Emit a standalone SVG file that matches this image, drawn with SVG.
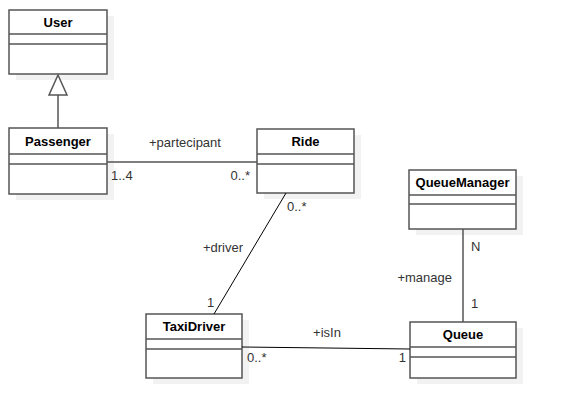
<svg xmlns="http://www.w3.org/2000/svg" width="565" height="418" viewBox="0 0 565 418">
<style>
.shadow{fill:#f2f2f2;stroke:none}
.box{fill:#ffffff;stroke:#555555;stroke-width:1.5}
.div{stroke:#555555;stroke-width:1.5}
.name{font-family:"Liberation Sans",Arial,sans-serif;font-size:13px;font-weight:bold;fill:#000000;text-anchor:middle}
.lbl{font-family:"Liberation Sans",Arial,sans-serif;font-size:13px;fill:#333333}
.conn{stroke:#555555;stroke-width:1.5;fill:none}
.thin{stroke:#000000;stroke-width:1;fill:none}
</style>
<rect width="565" height="418" fill="#ffffff"/>
<g id="User">
<rect class="shadow" x="16" y="16" width="98" height="64"/>
<rect class="box" x="9" y="10" width="98" height="64"/>
<line class="div" x1="9" y1="34" x2="107" y2="34"/>
<line class="div" x1="9" y1="44" x2="107" y2="44"/>
<text class="name" x="58" y="27">User</text>
</g>
<g id="Passenger">
<rect class="shadow" x="16" y="134" width="98" height="66"/>
<rect class="box" x="9" y="128" width="98" height="66"/>
<line class="div" x1="9" y1="154" x2="107" y2="154"/>
<line class="div" x1="9" y1="164" x2="107" y2="164"/>
<text class="name" x="58" y="146">Passenger</text>
</g>
<g id="Ride">
<rect class="shadow" x="264" y="135" width="97" height="64"/>
<rect class="box" x="257" y="129" width="97" height="64"/>
<line class="div" x1="257" y1="154" x2="354" y2="154"/>
<line class="div" x1="257" y1="164" x2="354" y2="164"/>
<text class="name" x="305.5" y="146">Ride</text>
</g>
<g id="QueueManager">
<rect class="shadow" x="416" y="176" width="107" height="59"/>
<rect class="box" x="409" y="170" width="107" height="59"/>
<line class="div" x1="409" y1="195" x2="516" y2="195"/>
<line class="div" x1="409" y1="204" x2="516" y2="204"/>
<text class="name" x="462.5" y="187">QueueManager</text>
</g>
<g id="TaxiDriver">
<rect class="shadow" x="153" y="320" width="96" height="64"/>
<rect class="box" x="146" y="314" width="96" height="64"/>
<line class="div" x1="146" y1="339" x2="242" y2="339"/>
<line class="div" x1="146" y1="349" x2="242" y2="349"/>
<text class="name" x="194" y="331">TaxiDriver</text>
</g>
<g id="Queue">
<rect class="shadow" x="417" y="328" width="106" height="56"/>
<rect class="box" x="410" y="322" width="106" height="56"/>
<line class="div" x1="410" y1="347" x2="516" y2="347"/>
<line class="div" x1="410" y1="357" x2="516" y2="357"/>
<text class="name" x="463" y="339">Queue</text>
</g>
<g id="connectors">
<line class="conn" x1="58" y1="95" x2="58" y2="128"/>
<polygon points="58,75 49,95 67,95" fill="#ffffff" stroke="#555555" stroke-width="1.5"/>
<line class="conn" x1="107" y1="162" x2="257" y2="162"/>
<text class="lbl" x="185" y="147" text-anchor="middle">+partecipant</text>
<text class="lbl" x="111" y="180">1..4</text>
<text class="lbl" x="250" y="180" text-anchor="end">0..*</text>
<line class="thin" x1="286" y1="193" x2="214" y2="314"/>
<text class="lbl" x="223" y="252" text-anchor="middle">+driver</text>
<text class="lbl" x="287" y="211">0..*</text>
<text class="lbl" x="207" y="307">1</text>
<line class="thin" x1="242" y1="347" x2="410" y2="349"/>
<text class="lbl" x="327" y="337" text-anchor="middle">+isIn</text>
<text class="lbl" x="247" y="362">0..*</text>
<text class="lbl" x="406" y="362" text-anchor="end">1</text>
<line class="conn" x1="463" y1="229" x2="463" y2="322"/>
<text class="lbl" x="471" y="251">N</text>
<text class="lbl" x="471" y="308">1</text>
<text class="lbl" x="452" y="282" text-anchor="end">+manage</text>
</g>
</svg>
